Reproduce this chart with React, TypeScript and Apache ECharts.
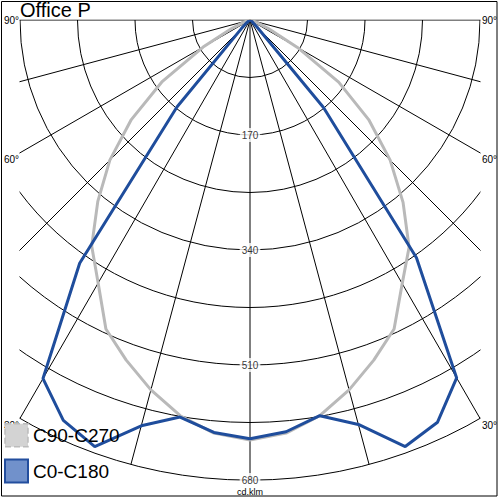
import React, { useEffect, useRef } from "react";
import * as echarts from "echarts";

// gamma angles (degrees from nadir)
const gammaAngles = [0, 5, 10, 15, 20, 25, 30, 35, 40, 45, 50, 55, 60, 65, 70, 75, 80, 85, 90];
// luminous intensity, cd/klm
const blueC0 = [619, 611, 594, 619, 671, 656, 611, 429, 169, 15, 5, 2, 1, 0, 0, 0, 0, 0, 0];
const blueC180 = [619, 612, 596, 621, 671, 653, 612, 439, 168, 18, 6, 2, 1, 0, 0, 0, 0, 0, 0];
const grayC90 = [621, 613, 594, 566, 535, 504, 450, 410, 352, 293, 229, 160, 81, 30, 10, 4, 2, 1, 0];
const grayC270 = [621, 613, 594, 566, 535, 504, 449, 408, 350, 293, 229, 158, 80, 30, 10, 4, 2, 1, 0];
const radiusTicks = [170, 340, 510, 680];
const angleLabels = ["90°", "60°", "30°"];
const angleLabelValues = [90, 60, 30];

const FONT = 'Arial, "Liberation Sans", sans-serif';

function buildCurve(left: number[], right: number[]) {
  const pts: number[][] = [];
  for (let i = gammaAngles.length - 1; i >= 0; i--) pts.push([left[i], gammaAngles[i]]);
  for (let i = 1; i < gammaAngles.length; i++) pts.push([right[i], -gammaAngles[i]]);
  return pts;
}

export default function App() {
  const ref = useRef<HTMLDivElement>(null);
  useEffect(() => {
    if (!ref.current) return;
    const chart = echarts.init(ref.current, undefined, { renderer: "svg" });
    const cx = 250;
    const cy = 20;
    const R = 460;
    const sideTexts: any[] = [];
    angleLabelValues.forEach((a, i) => {
      const y = cy + 230 / Math.tan((a * Math.PI) / 180) + (a === 90 ? 0 : 7);
      sideTexts.push({
        type: "text", z: 60, x: 4, y,
        style: { text: angleLabels[i], font: `10px ${FONT}`, fill: "#000", verticalAlign: "middle", align: "left" },
      });
      sideTexts.push({
        type: "text", z: 60, x: 482, y,
        style: { text: angleLabels[i], font: `10px ${FONT}`, fill: "#000", verticalAlign: "middle", align: "left" },
      });
    });
    chart.setOption({
      animation: false,
      backgroundColor: "#fff",
      polar: { center: [cx, cy], radius: R },
      angleAxis: {
        type: "value",
        min: -90,
        max: 90,
        interval: 15,
        startAngle: 0,
        endAngle: -180,
        clockwise: true,
        axisLine: { show: false },
        axisTick: { show: false },
        axisLabel: { show: false },
        splitLine: { show: true, lineStyle: { color: "#000", width: 1 } },
      },
      radiusAxis: {
        type: "value",
        min: 0,
        max: 680,
        interval: 85,
        axisLine: { show: false },
        axisTick: { show: false },
        axisLabel: { show: false },
        splitLine: { show: true, lineStyle: { color: "#000", width: 1 } },
      },
      legend: {
        orient: "vertical",
        left: 4,
        top: 423,
        itemWidth: 23,
        itemHeight: 23,
        itemGap: 11,
        padding: 0,
        z: 100,
        icon: "rect",
        selectedMode: false,
        textStyle: { fontSize: 19, color: "#000", fontFamily: FONT },
        data: [
          { name: "C90-C270", itemStyle: { color: "#d3d3d3", borderColor: "#bcbcbc", borderWidth: 1.5, borderType: "dashed" } },
          { name: "C0-C180", itemStyle: { color: "#7191cb", borderColor: "#234e9e", borderWidth: 2 } },
        ],
      },
      series: [
        {
          name: "C90-C270",
          type: "line",
          coordinateSystem: "polar",
          data: buildCurve(grayC270, grayC90),
          symbol: "none",
          z: 3,
          lineStyle: { color: "#b9b9b9", width: 3 },
          itemStyle: { color: "#b9b9b9" },
        },
        {
          name: "C0-C180",
          type: "line",
          coordinateSystem: "polar",
          data: buildCurve(blueC180, blueC0),
          symbol: "none",
          z: 4,
          lineStyle: { color: "#1f4d9c", width: 3 },
          itemStyle: { color: "#1f4d9c" },
        },
        {
          type: "scatter",
          coordinateSystem: "polar",
          data: radiusTicks.map((r) => [r, 0]),
          symbolSize: 1,
          silent: true,
          z: 5,
          itemStyle: { color: "rgba(0,0,0,0)" },
          label: {
            show: true,
            position: "inside",
            formatter: (p: any) => String(p.value[0]),
            fontSize: 10,
            fontFamily: FONT,
            color: "#000",
            backgroundColor: "#fff",
            padding: [2, 2],
          },
        },
      ],
      graphic: [
        { type: "rect", z: 50, shape: { x: 0, y: 0, width: 19.5, height: 500 }, style: { fill: "#fff" } },
        { type: "rect", z: 50, shape: { x: 480.5, y: 0, width: 20, height: 500 }, style: { fill: "#fff" } },
        { type: "rect", z: 50, shape: { x: 0, y: 0, width: 500, height: 19.5 }, style: { fill: "#fff" } },
        { type: "rect", z: 55, shape: { x: 1.5, y: 1.5, width: 495.5, height: 494.5 }, style: { fill: "none", stroke: "#000", lineWidth: 1 } },
        {
          type: "text", z: 60, x: 20, y: 10,
          style: { text: "Office P", font: `20px ${FONT}`, fill: "#000", verticalAlign: "middle", align: "left" },
        },
        {
          type: "text", z: 60, x: 250, y: 492,
          style: { text: "cd.klm", font: `9px ${FONT}`, fill: "#000", verticalAlign: "middle", align: "center" },
        },
        ...sideTexts,
      ],
    });
    return () => chart.dispose();
  }, []);
  return <div ref={ref} style={{ position: "fixed", left: 0, top: 0, width: 500, height: 500 }} />;
}
